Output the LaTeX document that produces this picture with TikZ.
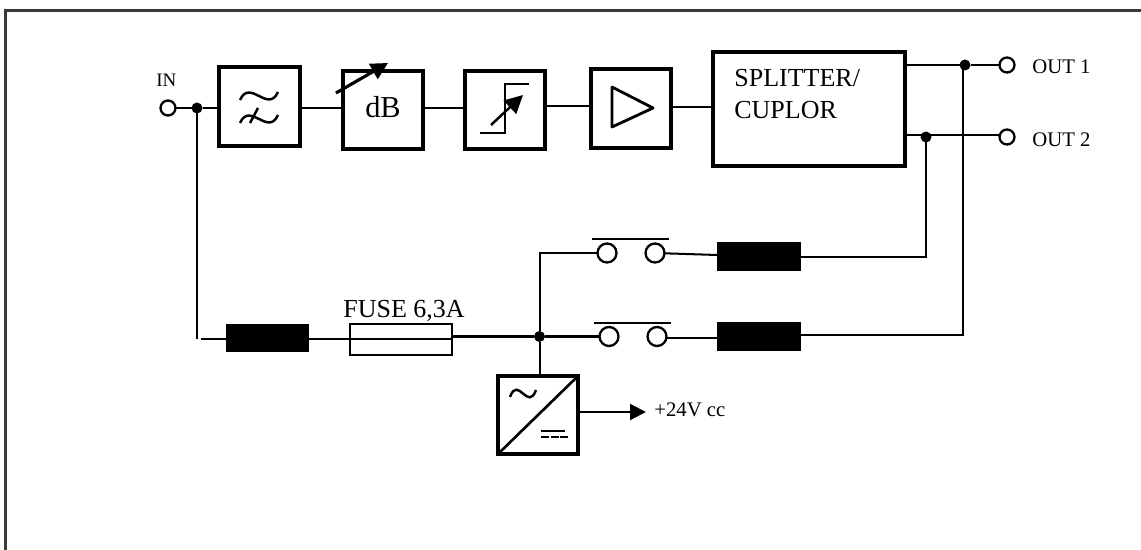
\documentclass[tikz,border=0pt]{standalone}
\usepackage{fontspec}
\setmainfont{Liberation Serif}
\usetikzlibrary{arrows.meta,calc}
\definecolor{framegray}{HTML}{3A3A3A}
\tikzset{
  wire/.style={line width=1.15pt},
  blockbox/.style={draw, line width=1.9pt, fill=white, outer sep=0pt, inner sep=0pt},
  choke/.style={fill=black, outer sep=0pt, inner sep=0pt, minimum width=1.67cm, minimum height=0.58cm},
  junction/.style={circle, fill=black, outer sep=0pt, inner sep=0pt, minimum size=0.22cm},
  port/.style={circle, draw, fill=white, line width=1.3pt, outer sep=0pt, inner sep=0pt, minimum size=0.3cm},
  contact/.style={circle, draw, fill=white, line width=1.3pt, outer sep=0pt, inner sep=0pt, minimum size=0.38cm},
  symb/.style={line width=1.4pt},
  smalltxt/.style={anchor=base west, inner sep=0pt, font=\fontsize{11.8}{14}\selectfont},
  bigtxt/.style={anchor=base west, inner sep=0pt, font=\fontsize{14.8}{18}\selectfont}
}
\begin{document}
\begin{tikzpicture}[x=0.02cm,y=-0.02cm]
\useasboundingbox (0,0) rectangle (1141,550);
\draw[framegray, line width=1.2pt] (5.5,550) -- (5.5,10.5) -- (1141,10.5);
% top chain
\node[port] (in) at (168,108) {};
\node[junction] (jin) at (197,108) {};
\node[blockbox, minimum width=1.62cm, minimum height=1.58cm] (filt) at (259.5,106.5) {};
\node[blockbox, minimum width=1.6cm, minimum height=1.56cm] (atten) at (383,110) {};
\node[anchor=base, inner sep=0pt, font=\fontsize{17.3}{20}\selectfont] (attentxt) at (383,118) {dB};
\node[blockbox, minimum width=1.6cm, minimum height=1.56cm] (limit) at (505,110) {};
\node[blockbox, minimum width=1.6cm, minimum height=1.58cm] (amp) at (631,108.5) {};
\node[blockbox, minimum width=3.84cm, minimum height=2.28cm] (split) at (809,109) {};
\node[bigtxt] (splittxt) at (734,87) {SPLITTER/};
\node[bigtxt] (cuptxt) at (734,119) {CUPLOR};
\node[smalltxt, font=\fontsize{10.8}{13}\selectfont] (intxt) at (156,87) {IN};
\node[junction] (jout1) at (965,65) {};
\node[junction] (jout2) at (926,137) {};
\node[port] (out1) at (1007,65) {};
\node[port] (out2) at (1007,137) {};
\node[smalltxt] (out1txt) at (1032,74) {OUT 1};
\node[smalltxt] (out2txt) at (1032,147) {OUT 2};
\draw[wire] (in) -- (jin) -- (filt.west |- jin);
\draw[wire] (filt.east |- jin) -- (atten.west |- jin);
\draw[wire] (atten.east |- jin) -- (limit.west |- jin);
\draw[wire] (limit.east |- 0,106) -- (amp.west |- 0,106);
\draw[wire] (amp.east |- 0,107) -- (split.west |- 0,107);
\draw[wire] (split.east |- out1) -- (jout1) -- (out1);
\draw[wire] (split.east |- 0,135) -- (jout2 |- 0,135) -- (out2.west |- 0,135);
% symbols in the boxes
\draw[symb] (240,100) .. controls (250,78) and (268,114) .. (278,92);
\draw[symb] (240,123) .. controls (250,101) and (268,137) .. (278,115);
\draw[symb] (250,123) -- (258,108);
\draw[line width=1.8pt, -{Triangle[length=0.34cm,width=0.34cm]}] (336,93) -- (388,63);
\draw[line width=1.3pt] (480,133) -- (505,133) -- (505,84) -- (529,84);
\draw[line width=1.4pt, -{Triangle[length=0.36cm,width=0.36cm]}] (491,125) -- (523,95);
\draw[line width=1.6pt, line join=round] (612,87) -- (653,108) -- (612,127) -- cycle;
% lower chain
\node[choke] (chokein) at (267.5,338) {};
\node[blockbox, line width=1.4pt, fill=none, minimum width=2.04cm, minimum height=0.62cm] (fuse) at (401,339.5) {};
\node[bigtxt] (fusetxt) at (343,317) {FUSE 6,3A};
\node[junction] (jmid) at (539.5,336.5) {};
\node[contact] (swa1) at (607,253) {};
\node[contact] (swa2) at (655,253) {};
\node[contact] (swb1) at (609,336.5) {};
\node[contact] (swb2) at (657,336.5) {};
\node[choke] (chokea) at (759,256.5) {};
\node[choke] (chokeb) at (759,336.5) {};
\coordinate (corner) at (197,339);
\coordinate (bus) at (963,335);
\draw[wire] (jin) -- (corner);
\draw[wire] (201,339) -- (chokein.west |- 0,339);
\draw[wire] (chokein.east |- 0,339) -- (fuse.east |- 0,339);
\draw[wire] (fuse.east |- jmid) -- (jmid) -- (swb1);
\draw[wire] (swb2.east |- 0,338) -- (chokeb.west |- 0,338);
\draw[wire] (jmid.center) |- (swa1);
\draw[wire] (swa2) -- (chokea.west |- 0,255);
\draw[wire] (chokea.east |- 0,257) -| (jout2);
\draw[wire] (chokeb.east |- bus) -- (bus) -- (bus |- jout1);
\draw[line width=1.2pt] (592,239) -- (669,239);
\draw[line width=1.2pt] (594,323) -- (671,323);
% power supply
\node[blockbox, minimum width=1.6cm, minimum height=1.56cm] (conv) at (538,415) {};
\node[smalltxt] (powtxt) at (654,416) {+24V cc};
\coordinate (powout) at (646,412);
\draw[wire] (jmid) -- (jmid |- conv.north);
\draw[wire, -{Triangle[length=0.32cm,width=0.32cm]}] (conv.east |- powout) -- (powout);
\draw[line width=1.5pt] (conv.south west) -- (conv.north east);
\draw[symb] (510,397) .. controls (518,375) and (528,412) .. (536,390);
\draw[symb] (541,431) -- (565,431);
\draw[symb, dash pattern=on 4.5pt off 1pt] (541,437) -- (568,437);
\end{tikzpicture}
\end{document}
